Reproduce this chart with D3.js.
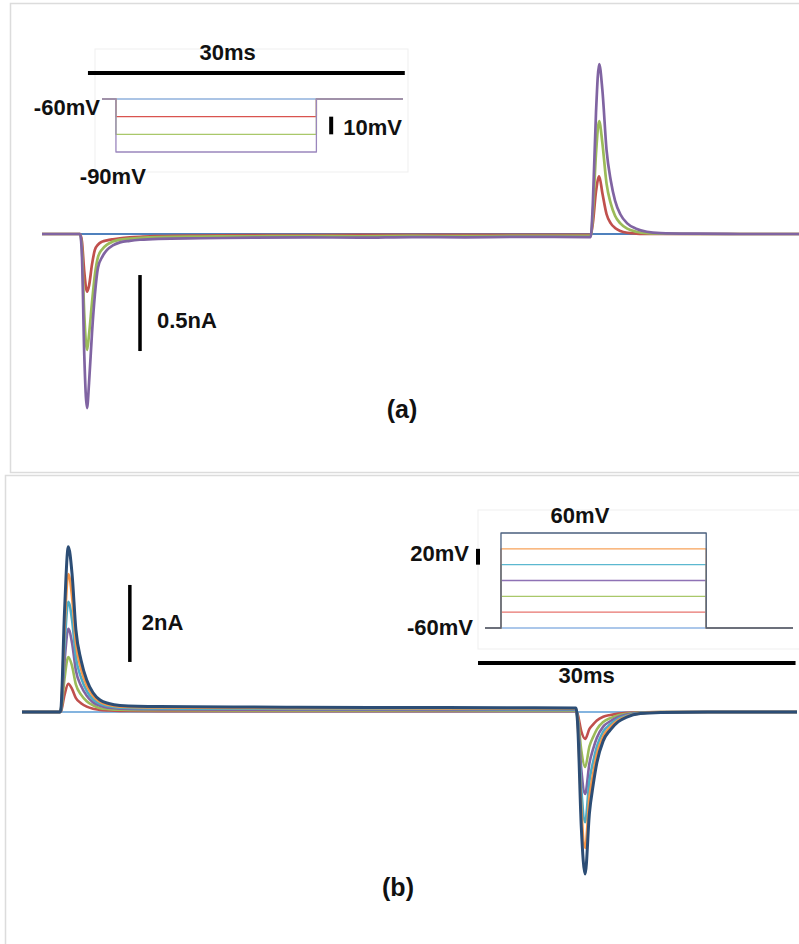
<!DOCTYPE html>
<html>
<head>
<meta charset="utf-8">
<script src="https://cdn.jsdelivr.net/npm/d3@7"></script>
<style>
  body { margin: 0; background: #fff; }
  svg text { font-family: "Liberation Sans", Arial, sans-serif; font-weight: bold; fill: #111; }
</style>
</head>
<body>
<svg id="chart"></svg>
<script>
// ---------- panel (a): currents (nA) vs time (ms) ----------
const aTime   = [0, 3.6, 3.78, 4.0, 4.26, 4.45, 4.73, 5.0, 5.3, 5.7, 6.15, 6.7, 7.38, 8.3, 9.27, 11, 15, 20, 25, 30, 35, 40, 45, 51.9,
                 52.1, 52.4, 52.7, 53.0, 53.4, 53.8, 54.2, 54.7, 55.35, 56.2, 57.2, 58.5, 62, 66, 71.6];
const aBlue   = [0, 0, 0, 0, 0, 0, 0, 0, 0, 0, 0, 0, 0, 0, 0, 0, 0, 0, 0, 0, 0, 0, 0, 0,
                 0, 0, 0, 0, 0, 0, 0, 0, 0, 0, 0, 0, 0, 0, 0];
const aRed    = [0, 0, -0.05, -0.25, -0.38, -0.34, -0.2, -0.105, -0.07, -0.05, -0.042, -0.035, -0.028, -0.022, -0.018, -0.014, -0.01, -0.008, -0.007, -0.006, -0.005, -0.006, -0.005, -0.005,
                 0.07, 0.28, 0.38, 0.27, 0.13, 0.07, 0.04, 0.02, 0.008, 0.003, 0.001, 0, 0, 0, 0];
const aGreen  = [0, 0, -0.1, -0.53, -0.763, -0.66, -0.45, -0.27, -0.15, -0.1, -0.07, -0.05, -0.037, -0.03, -0.025, -0.02, -0.017, -0.015, -0.013, -0.015, -0.012, -0.014, -0.012, -0.012,
                 0.13, 0.53, 0.743, 0.6, 0.33, 0.2, 0.12, 0.07, 0.035, 0.015, 0.005, 0.002, 0, 0, 0];
const aPurple = [0, 0, -0.15, -0.8, -1.145, -0.98, -0.65, -0.4, -0.22, -0.15, -0.105, -0.075, -0.055, -0.045, -0.038, -0.032, -0.028, -0.024, -0.022, -0.024, -0.02, -0.022, -0.019, -0.02,
                 0.2, 0.8, 1.118, 0.95, 0.55, 0.35, 0.22, 0.13, 0.07, 0.035, 0.015, 0.006, 0.002, 0, 0];

// inset (a): voltage protocol (mV)
const insetATime   = [0, 1.32, 1.32, 20.3, 20.3, 28.5];
const insetABlue   = [-60, -60, -60, -60, -60, -60];
const insetARed    = [-60, -60, -70, -70, -60, -60];
const insetAGreen  = [-60, -60, -80, -80, -60, -60];
const insetAPurple = [-60, -60, -90, -90, -60, -60];

// ---------- panel (b) ----------
const bTime   = [0, 3.6, 3.69, 4.02, 4.38, 4.73, 5.1, 5.58, 6.12, 6.72, 7.38, 8.2, 9.27, 13, 20, 26, 33, 40, 46, 52.4,
                 52.55, 52.9, 53.26, 53.67, 54.02, 54.37, 54.97, 55.63, 56.4, 57.2, 58.47, 60.4, 65, 73.3];
const bBlue   = [0, 0, 0, 0, 0, 0, 0, 0, 0, 0, 0, 0, 0, 0, 0, 0, 0, 0, 0, 0,
                 0, 0, 0, 0, 0, 0, 0, 0, 0, 0, 0, 0, 0, 0];
const bRed    = [0, 0, 0.02, 0.44, 0.73, 0.6, 0.36, 0.23, 0.14, 0.085, 0.055, 0.04, 0.03, 0.024, 0.021, 0.02, 0.019, 0.018, 0.018, 0.018,
                 -0.05, -0.5, -0.7, -0.44, -0.32, -0.22, -0.125, -0.078, -0.042, -0.022, -0.007, -0.002, 0, 0];
const bGreen  = [0, 0, 0.03, 0.86, 1.43, 1.2, 0.71, 0.45, 0.28, 0.17, 0.1, 0.075, 0.058, 0.046, 0.042, 0.04, 0.039, 0.038, 0.037, 0.036,
                 -0.1, -1.0, -1.43, -0.89, -0.65, -0.45, -0.26, -0.16, -0.085, -0.044, -0.014, -0.003, 0, 0];
const bPurple = [0, 0, 0.05, 1.3, 2.16, 1.8, 1.07, 0.68, 0.42, 0.25, 0.16, 0.11, 0.085, 0.068, 0.063, 0.06, 0.058, 0.056, 0.055, 0.054,
                 -0.15, -1.5, -2.13, -1.33, -0.96, -0.67, -0.38, -0.24, -0.13, -0.066, -0.02, -0.005, 0, 0];
const bTeal   = [0, 0, 0.07, 1.72, 2.86, 2.4, 1.42, 0.9, 0.55, 0.33, 0.21, 0.15, 0.11, 0.09, 0.085, 0.08, 0.078, 0.076, 0.074, 0.072,
                 -0.2, -2.0, -2.86, -1.78, -1.29, -0.9, -0.51, -0.32, -0.17, -0.09, -0.03, -0.007, 0, 0];
const bOrange = [0, 0, 0.08, 2.15, 3.58, 3.0, 1.78, 1.12, 0.69, 0.42, 0.26, 0.18, 0.14, 0.115, 0.105, 0.1, 0.098, 0.095, 0.092, 0.09,
                 -0.25, -2.5, -3.53, -2.2, -1.6, -1.1, -0.63, -0.39, -0.21, -0.11, -0.035, -0.008, 0, 0];
const bNavy   = [0, 0, 0.1, 2.6, 4.29, 3.6, 2.13, 1.35, 0.83, 0.5, 0.31, 0.22, 0.17, 0.14, 0.13, 0.125, 0.12, 0.115, 0.11, 0.105,
                 -0.3, -3.0, -4.21, -2.62, -1.9, -1.32, -0.75, -0.47, -0.25, -0.13, -0.04, -0.01, 0, 0];

// inset (b): voltage protocol (mV)
const insetBTime   = [0, 1.51, 1.51, 20.9, 20.9, 29.1];
const insetBBlue   = [-60, -60, -60, -60, -60, -60];
const insetBRed    = [-60, -60, -40, -40, -60, -60];
const insetBGreen  = [-60, -60, -20, -20, -60, -60];
const insetBPurple = [-60, -60, 0, 0, -60, -60];
const insetBTeal   = [-60, -60, 20, 20, -60, -60];
const insetBOrange = [-60, -60, 40, 40, -60, -60];
const insetBNavy   = [-60, -60, 60, 60, -60, -60];

const C = {
   blue: '#4f81bd', red: '#c0504d', green: '#9bbb59', purple: '#8064a2',
   teal: '#4bacc6', orange: '#f79646', navy: '#2c4d75', lightBlue: '#5b9bd5'
};

const width = 799, height = 944;
const svg = d3.select('#chart').attr('width', width).attr('height', height);

// Scales
const xA = d3.scaleLinear().domain([0, 71.6]).range([42, 799]);
const yA = d3.scaleLinear().domain([-1.3, 1.3]).range([431.6, 36.4]);
const xB = d3.scaleLinear().domain([0, 73.3]).range([22, 797]);
const yB = d3.scaleLinear().domain([-4.5, 4.5]).range([885.25, 538.75]);
const xIA = d3.scaleLinear().domain([0, 28.5]).range([102, 403]);
const vIA = d3.scaleLinear().domain([-90, -60]).range([152, 99]);
const xIB = d3.scaleLinear().domain([0, 29.1]).range([485, 793]);
const vIB = d3.scaleLinear().domain([-60, 60]).range([628, 533]);

// Panel frames
svg.append('rect').attr('x', 10.5).attr('y', 3.5).attr('width', 800).attr('height', 469)
   .attr('fill', 'none').attr('stroke', '#dcdcdc').attr('stroke-width', 1.5);
svg.append('rect').attr('x', 5.5).attr('y', 475.5).attr('width', 810).attr('height', 480)
   .attr('fill', 'none').attr('stroke', '#dcdcdc').attr('stroke-width', 1.5);

// helper: draw one trace
function trace(g, times, values, x, y, color, w, curve) {
   const pts = times.map((t, i) => [t, values[i]]);
   g.append('path')
      .datum(pts)
      .attr('fill', 'none')
      .attr('stroke', color)
      .attr('stroke-width', w)
      .attr('stroke-linejoin', 'round')
      .attr('d', d3.line().x(d => x(d[0])).y(d => y(d[1])).curve(curve)(pts));
}

function bar(x1, y1, x2, y2, w) {
   svg.append('line')
      .attr('x1', x1).attr('y1', y1).attr('x2', x2).attr('y2', y2)
      .attr('stroke', '#000').attr('stroke-width', w);
}

function label(txt, x, y, anchor, size) {
   svg.append('text')
      .attr('x', x).attr('y', y)
      .attr('text-anchor', anchor || 'start')
      .style('font-size', (size || 22) + 'px')
      .text(txt);
}

// ---------- panel (a) ----------
// inset frame
svg.append('rect')
   .attr('x', xIA(0) - 7).attr('y', vIA(-60) - 50)
   .attr('width', xIA(28.5) + 5 - (xIA(0) - 7))
   .attr('height', vIA(-90) + 20 - (vIA(-60) - 50))
   .attr('fill', 'none').attr('stroke', '#efefef').attr('stroke-width', 1);

const gIA = svg.append('g');
[[insetABlue, '#8fb0dc'], [insetARed, '#d9534f'], [insetAGreen, '#a9c86a'], [insetAPurple, '#9a86bd']]
   .forEach(([v, c]) => trace(gIA, insetATime, v, xIA, vIA, c, 1.3, d3.curveLinear));

bar(xIA(-1.33), vIA(-45.3), xIA(28.67), vIA(-45.3), 4);
label('30ms', xIA(11.9), 60, 'middle');
label('-60mV', xIA(-0.2), vIA(-60) + 16, 'end');
label('-90mV', xIA(-2.1), vIA(-90) + 32);
bar(xIA(21.7), vIA(-70), xIA(21.7), vIA(-80), 4);
label('10mV', xIA(21.7) + 12, vIA(-80) + 1);

// currents
const gA = svg.append('g');
[[aBlue, C.blue, 2], [aRed, C.red, 2.7], [aGreen, C.green, 2.7], [aPurple, C.purple, 2.7]]
   .forEach(([v, c, w]) => trace(gA, aTime, v, xA, yA, c, w, d3.curveMonotoneX));

bar(xA(9.27), yA(-0.27), xA(9.27), yA(-0.77), 3.5);
label('0.5nA', xA(9.27) + 17, 328);
label('(a)', 402, 418, 'middle', 25);

// ---------- panel (b) ----------
svg.append('rect')
   .attr('x', xIB(0) - 7).attr('y', vIB(60) - 23)
   .attr('width', 340)
   .attr('height', vIB(-60) + 21 - (vIB(60) - 23))
   .attr('fill', 'none').attr('stroke', '#efefef').attr('stroke-width', 1);

const gIB = svg.append('g');
[[insetBBlue, '#8fb4e3'], [insetBRed, '#e8746f'], [insetBGreen, '#a9c86a'], [insetBPurple, '#8e72b5'],
 [insetBTeal, '#5bb8d0'], [insetBOrange, '#f7a25a'], [insetBNavy, '#4a5f7e']]
   .forEach(([v, c]) => trace(gIB, insetBTime, v, xIB, vIB, c, 1.3, d3.curveLinear));

bar(xIB(-0.66), vIB(-104.2), xIB(29.34), vIB(-104.2), 4);
label('30ms', xIB(9.6), 683, 'middle');
label('60mV', xIB(6.2), vIB(60) - 10);
bar(xIB(-0.66), vIB(20), xIB(-0.66), vIB(40), 4);
label('20mV', xIB(-0.66) - 9, vIB(20) - 4, 'end');
label('-60mV', xIB(0) - 12, vIB(-60) + 7, 'end');

const gB = svg.append('g');
[[bBlue, C.lightBlue, 1.6], [bRed, C.red, 2.6], [bGreen, C.green, 2.6], [bPurple, C.purple, 2.6],
 [bTeal, C.teal, 2.6], [bOrange, C.orange, 2.6], [bNavy, C.navy, 3]]
   .forEach(([v, c, w]) => trace(gB, bTime, v, xB, yB, c, w, d3.curveMonotoneX));

bar(xB(10.2), yB(1.3), xB(10.2), yB(3.3), 3.5);
label('2nA', xB(10.2) + 12, 630);
label('(b)', 398, 896, 'middle', 25);
</script>
</body>
</html>
